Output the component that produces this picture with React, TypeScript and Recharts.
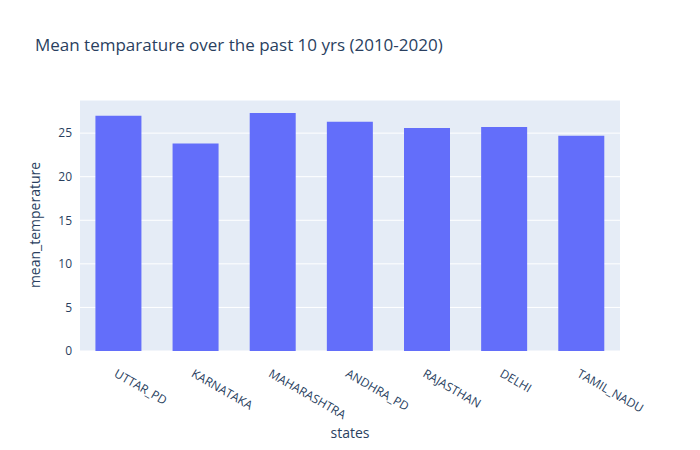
import React from "react";
import { BarChart, Bar, XAxis, YAxis, CartesianGrid } from "recharts";

const states = ["UTTAR_PD", "KARNATAKA", "MAHARASHTRA", "ANDHRA_PD", "RAJASTHAN", "DELHI", "TAMIL_NADU"];
const meanTemps = [27.0, 23.8, 27.3, 26.3, 25.6, 25.7, 24.7];
const yTicks = [0, 5, 10, 15, 20, 25];

const data = states.map((s, i) => ({ state: s, mean_temperature: meanTemps[i] }));
const font = '"Open Sans", sans-serif';
const txt = "#2a3f5f";

const XTick = (props: any) => {
  const { x, y, payload } = props;
  return (
    <text x={x} y={y + 8} transform={`rotate(30 ${x} ${y + 8})`} textAnchor="start" dominantBaseline="hanging"
      fontSize={12} fill={txt} fontFamily={font}>
      {payload.value}
    </text>
  );
};

export default function App() {
  return (
    <div style={{ position: "absolute", left: 0, top: 0, width: 700, height: 450, background: "#fff" }}>
      <svg style={{ position: "absolute", left: 0, top: 0 }} width={700} height={450}>
        <text x={35} y={51} fontSize={17} fill={txt} fontFamily={font}>Mean temparature over the past 10 yrs (2010-2020)</text>
        <text x={350} y={438} fontSize={14} fill={txt} fontFamily={font} textAnchor="middle">states</text>
        <text x={40} y={225} fontSize={14} fill={txt} fontFamily={font} textAnchor="middle" transform="rotate(-90 40 225)">mean_temperature</text>
      </svg>
      <div style={{ position: "absolute", left: 0, top: 0 }}>
        <BarChart width={700} height={450} data={data} margin={{ top: 100, right: 80, left: 50, bottom: 39 }} barCategoryGap="20%">
          <CartesianGrid fill="#E5ECF6" stroke="#fff" vertical={false} strokeWidth={1} />
          <XAxis dataKey="state" axisLine={false} tickLine={false} height={60} tick={<XTick />} interval={0} />
          <YAxis domain={[0, 28.8]} ticks={yTicks} axisLine={false} tickLine={false} width={30}
            tick={{ fontSize: 12, fill: txt, fontFamily: font }} />
          <Bar dataKey="mean_temperature" fill="#636EFA" isAnimationActive={false} />
        </BarChart>
      </div>
    </div>
  );
}
